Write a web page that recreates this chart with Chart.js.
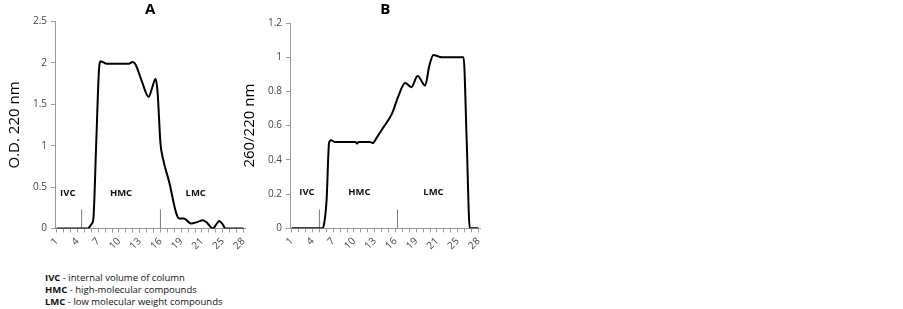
<!DOCTYPE html>
<html>
<head>
<meta charset="utf-8">
<script src="https://cdn.jsdelivr.net/npm/chart.js@4.4.1/dist/chart.umd.min.js"></script>
<style>
  body { margin: 0; background: #fff; width: 903px; height: 309px; position: relative; overflow: hidden; font-family: "Open Sans", sans-serif; }
  .painel { position: absolute; top: 0; width: 255px; height: 262px; }
  #graficoA { left: 0; }
  #graficoB { left: 235px; }
  .nota { position: absolute; left: 45px; top: 272px; font-size: 9.5px; line-height: 11.8px; color: #111; }
</style>
</head>
<body>
<div class="painel" id="graficoA"><canvas id="canvasA"></canvas></div>
<div class="painel" id="graficoB"><canvas id="canvasB"></canvas></div>
<div class="nota">
  <b>IVC</b> - internal volume of column<br>
  <b>HMC</b> - high-molecular compounds<br>
  <b>LMC</b> - low molecular weight compounds
</div>
<script>
// fracoes (eixo x) e leituras
const fracaoA = [1, 5.5, 6.0, 6.3, 6.7, 7.1, 7.35, 7.7, 8.2, 11.4, 12.0, 12.4, 13.3, 14.3, 14.8, 15.3, 15.6, 16.0, 16.35, 17.3, 18.3, 18.75, 19.4, 20.4, 21.4, 22.1, 22.6, 23.6, 24.0, 24.5, 25.0, 25.4, 28];
const odA =     [0, 0,   0.05, 0.12, 1.0, 1.9, 2.02, 2.01, 1.99, 1.99, 2.01, 1.98, 1.78, 1.59, 1.70, 1.81, 1.63, 1.03, 0.85, 0.55, 0.18, 0.12, 0.12, 0.06, 0.08, 0.10, 0.08, 0, 0.04, 0.09, 0.05, 0, 0];

const fracaoB = [1, 5.4, 5.7, 6.05, 6.4, 6.7, 7.2, 10.2, 10.45, 10.7, 12.3, 12.7, 13.3, 14.0, 15.5, 16.4, 17.4, 18.3, 19.2, 20.3, 20.9, 21.5, 22.2, 22.7, 25.85, 26.3, 26.75, 28];
const razaoB =  [0, 0,   0.03, 0.17, 0.50, 0.515, 0.505, 0.505, 0.495, 0.505, 0.505, 0.498, 0.53, 0.575, 0.67, 0.77, 0.85, 0.825, 0.89, 0.835, 0.95, 1.013, 1.005, 1.0, 1.0, 0.52, 0, 0];

// rotulos do eixo x (o original mostra 21 no lugar de 22)
const xTickValores = [1, 4, 7, 10, 13, 16, 19, 22, 25, 28];
const xTickRotulos = ['1', '4', '7', '10', '13', '16', '19', '21', '25', '28'];

// regioes IVC / HMC / LMC
const regioes = ['IVC', 'HMC', 'LMC'];
const regiaoXA = [2.6, 10.3, 21.1];
const regiaoXB = [3.2, 10.8, 21.5];
const divisoesA = [4.6, 16];
const divisoesB = [5.0, 16.3];

const fonteTick = { family: 'Open Sans', size: 10 };
const corEixo = '#9a9a9a';

function rotuloX(v) {
    let i = xTickValores.indexOf(v);
    return i >= 0 ? xTickRotulos[i] : '';
}

function criarGrafico(id, titulo, tituloY, xs, ys, yMax, passo, divisoes, alturaDivisao, regiaoX, regiaoY, padTitulo, baseArea) {
    let pontos = [];
    for (let i = 0; i < xs.length; i++) {
        pontos.push({ x: xs[i], y: ys[i] });
    }

    let datasets = [{
        data: pontos,
        borderColor: '#000',
        borderWidth: 2,
        pointRadius: 0,
        cubicInterpolationMode: 'monotone',
        fill: false
    }];

    // linhas verticais que separam as regioes
    divisoes.forEach(function (d) {
        datasets.push({
            data: [{ x: d, y: 0 }, { x: d, y: alturaDivisao }],
            borderColor: '#7a7a7a',
            borderWidth: 1,
            pointRadius: 0
        });
    });

    const rotulosRegiao = {
        id: 'rotulosRegiao',
        afterDatasetsDraw(chart) {
            const c = chart.ctx;
            c.save();
            c.font = 'bold 9.5px "Open Sans"';
            c.fillStyle = '#111';
            c.textAlign = 'center';
            c.textBaseline = 'middle';
            regioes.forEach(function (r, i) {
                c.fillText(r, chart.scales.x.getPixelForValue(regiaoX[i]), chart.scales.y.getPixelForValue(regiaoY));
            });
            c.restore();
        }
    };

    return new Chart(document.getElementById(id), {
        type: 'line',
        data: { datasets: datasets },
        plugins: [rotulosRegiao],
        options: {
            responsive: true,
            maintainAspectRatio: false,
            animation: false,
            layout: { padding: { left: 0, right: 9, top: 0, bottom: 0 } },
            plugins: {
                legend: { display: false },
                tooltip: { enabled: false },
                title: {
                    display: true,
                    text: titulo,
                    fullSize: false,
                    color: '#000',
                    font: { family: 'Open Sans', size: 15, weight: 'bold' },
                    padding: { top: 1, bottom: padTitulo }
                }
            },
            scales: {
                x: {
                    type: 'linear',
                    min: 0.75,
                    max: 28.3,
                    afterBuildTicks: function (s) {
                        let t = [];
                        for (let k = 1; k <= 28; k++) t.push({ value: k });
                        s.ticks = t;
                    },
                    afterFit: function (s) { s.height = 262 - baseArea; },
                    ticks: {
                        autoSkip: false,
                        minRotation: 45,
                        maxRotation: 45,
                        padding: 3,
                        color: '#444',
                        font: fonteTick,
                        callback: rotuloX
                    },
                    grid: { drawOnChartArea: false, tickLength: 4, color: corEixo },
                    border: { color: corEixo }
                },
                y: {
                    min: 0,
                    max: yMax,
                    afterBuildTicks: function (s) {
                        let t = [];
                        for (let v = 0; v <= yMax + 1e-9; v += passo) t.push({ value: +v.toFixed(2) });
                        s.ticks = t;
                    },
                    afterFit: function (s) { s.width = 55; },
                    ticks: {
                        color: '#444',
                        font: fonteTick,
                        padding: 4,
                        callback: function (v) { return String(+v.toFixed(2)); }
                    },
                    grid: { drawOnChartArea: false, tickLength: 4, color: corEixo },
                    border: { color: corEixo },
                    title: {
                        display: true,
                        text: tituloY,
                        color: '#000',
                        font: { family: 'Open Sans', size: 15 },
                        padding: { top: 6, bottom: 0 }
                    }
                }
            }
        }
    });
}

criarGrafico('canvasA', 'A', 'O.D. 220 nm', fracaoA, odA, 2.5, 0.5, divisoesA, 0.23, regiaoXA, 0.43, 2.5, 228.5);
criarGrafico('canvasB', 'B', '260/220 nm', fracaoB, razaoB, 1.2, 0.2, divisoesB, 0.11, regiaoXB, 0.21, 4, 228.3);
</script>
</body>
</html>
